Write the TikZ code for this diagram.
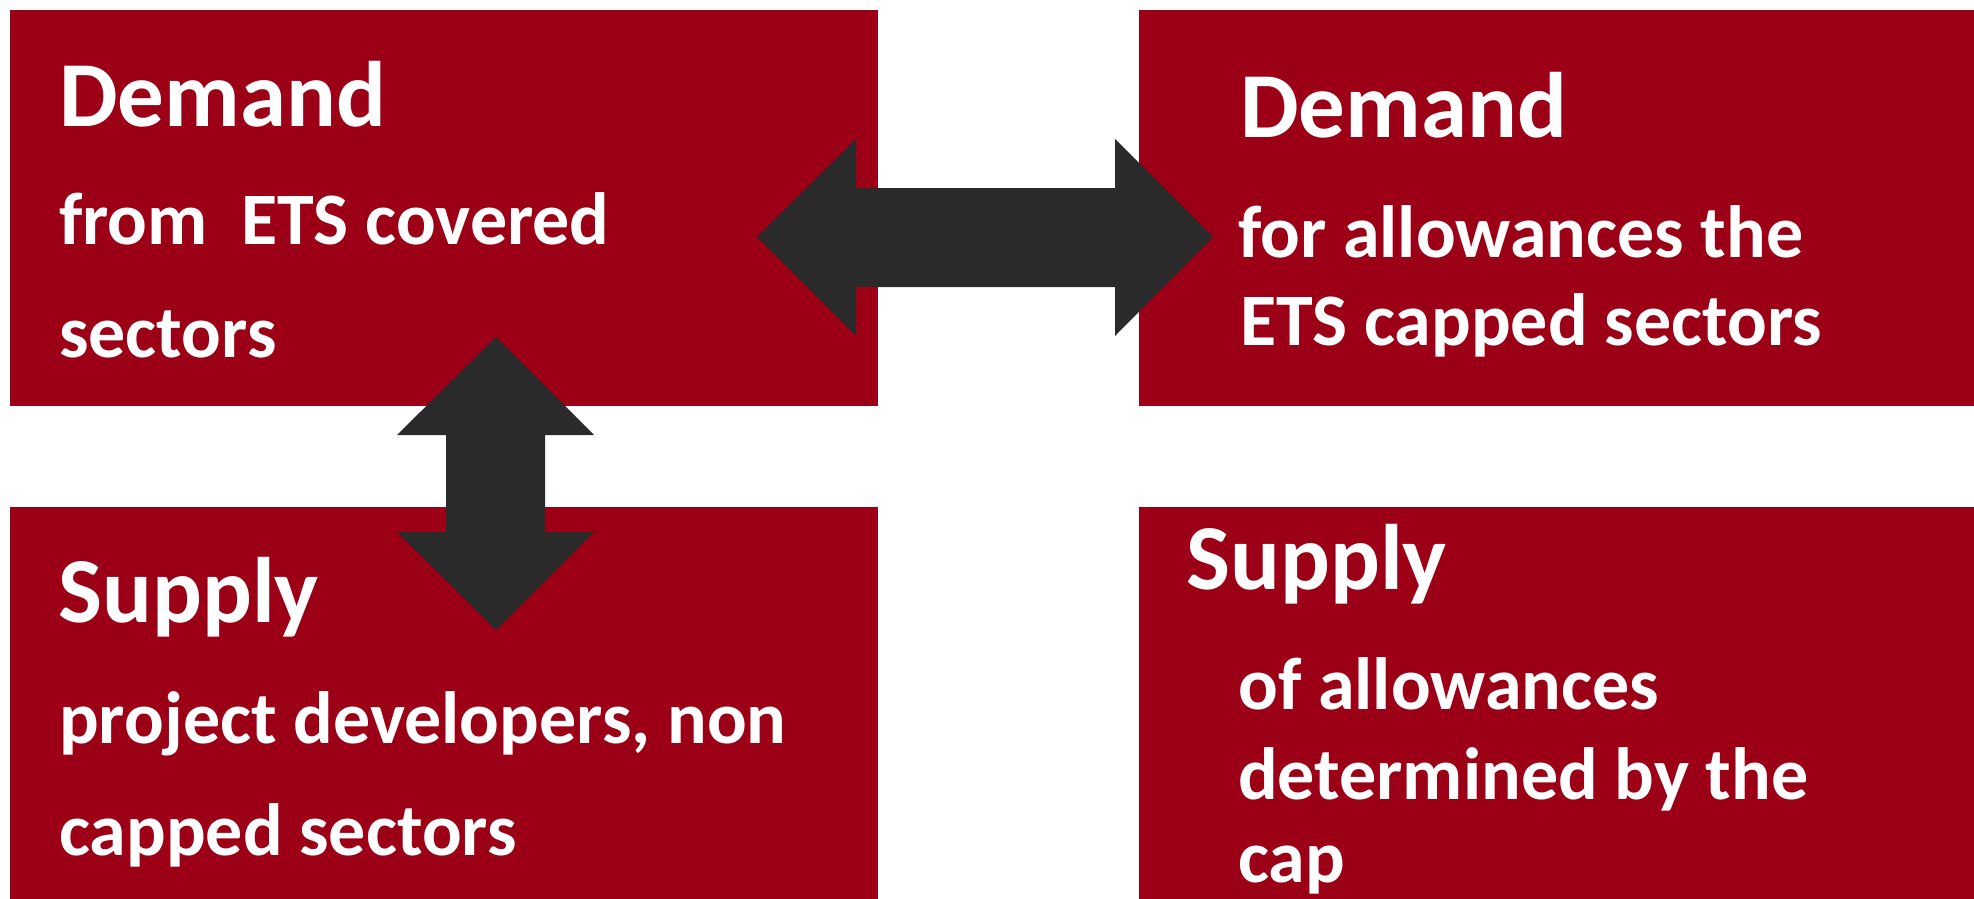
\documentclass[tikz,border=0pt]{standalone}
\usepackage{fontspec}
\setmainfont{Carlito}
\definecolor{boxred}{RGB}{155,0,22}
\definecolor{arrowgray}{RGB}{42,42,42}
\begin{document}
\begin{tikzpicture}[x=1pt,y=-1pt,
  panel/.style={fill=boxred,draw=none,inner sep=0pt,outer sep=0pt},
  headline/.style={anchor=base west,inner sep=0pt,text=white,font=\fontsize{93}{93}\selectfont\bfseries},
  bodyline/.style={anchor=base west,inner sep=0pt,text=white,font=\fontsize{74}{74}\selectfont\bfseries},
  bigarrow/.style={fill=arrowgray,draw=none}]
\useasboundingbox (0,0) rectangle (1974,899);

% four panels
\path[panel] (10,10) rectangle (878,406) coordinate (tlc);
\path[panel] (1139,10) rectangle (1974,406);
\path[panel] (10,507) rectangle (878,899);
\path[panel] (1139,507) rectangle (1974,899);
\node[inner sep=0pt] (dl) at (444,208) {};
\node[inner sep=0pt] (dr) at (1556,208) {};
\node[inner sep=0pt] (sl) at (444,703) {};
\node[inner sep=0pt] (sr) at (1556,703) {};

% texts
\node[headline] (t1) at (59,126) {Demand};
\node[bodyline] (t2) at (59,244) {from\ \ ETS covered};
\node[bodyline] (t3) at (59,357) {sectors};

\node[headline] (t4) at (1240,137) {Demand};
\node[bodyline] (t5) at (1238,257) {for allowances the};
\node[bodyline] (t6) at (1240,345) {ETS capped sectors};

\node[headline] (t7) at (58,622) {Supply};
\node[bodyline] (t8) at (59,743) {project developers, non};
\node[bodyline] (t9) at (59,855) {capped sectors};

\node[headline] (t10) at (1186,589) {Supply};
\node[bodyline] (t11) at (1238,709) {of allowances};
\node[bodyline] (t12) at (1238,799) {determined by the};
\node[bodyline] (t13) at (1238,882) {cap};

% horizontal double arrow between the two demand panels
\coordinate (hL) at (757,237);
\coordinate (hR) at (1213,237);
\fill[bigarrow] (hL) -- (856,139) -- (856,188) -- (1115,188) -- (1115,139)
  -- (hR) -- (1115,336) -- (1115,287) -- (856,287) -- (856,336) -- cycle;

% vertical double arrow between the two left panels
\coordinate (vT) at (496,337);
\coordinate (vB) at (496,630);
\fill[bigarrow] (vT) -- (594,435) -- (545,435) -- (545,532) -- (594,532)
  -- (vB) -- (397,532) -- (446,532) -- (446,435) -- (397,435) -- cycle;
\end{tikzpicture}
\end{document}
